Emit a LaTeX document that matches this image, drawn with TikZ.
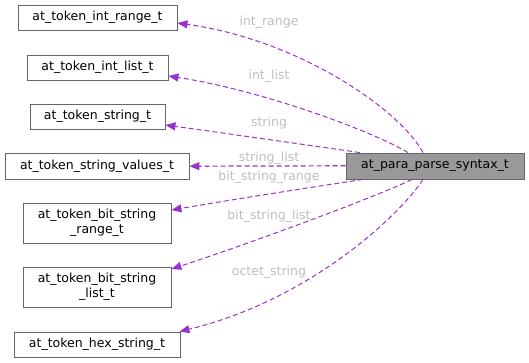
\documentclass[tikz,border=0pt]{standalone}
\usepackage{fontspec}
\setmainfont{DejaVu Sans}
\usetikzlibrary{arrows.meta,calc}
\definecolor{edgec}{HTML}{9A32CD}
\definecolor{boxc}{HTML}{666666}
\definecolor{labc}{HTML}{BEBEBE}
\definecolor{mainfill}{HTML}{999999}
\tikzset{
  cls/.style={draw=boxc, line width=0.9pt, fill=white, font=\fontsize{12.5}{15}\selectfont, inner sep=0pt, align=center},
  edge/.style={draw=edgec, line width=1pt, dash pattern=on 5pt off 3pt, -{Triangle[length=10pt,width=8pt,fill=edgec]}},
  lab/.style={text=labc, font=\fontsize{12.5}{15}\selectfont, inner sep=0pt}
}
\begin{document}
\begin{tikzpicture}[x=1pt,y=-1pt]
\useasboundingbox (0,0) rectangle (529,363);
\node[cls, minimum width=159, minimum height=25] (ir) at (97.5,17.5) {at\_token\_int\_range\_t};
\node[cls, minimum width=141, minimum height=25] (il) at (97.5,67.5) {at\_token\_int\_list\_t};
\node[cls, minimum width=135, minimum height=25] (st) at (97.5,116.5) {at\_token\_string\_t};
\node[cls, minimum width=184, minimum height=26] (sv) at (97,166) {at\_token\_string\_values\_t};
\node[cls, minimum width=148, minimum height=40] (bsr) at (97,223) {at\_token\_bit\_string\\\_range\_t};
\node[cls, minimum width=148, minimum height=40] (bsl) at (97,287) {at\_token\_bit\_string\\\_list\_t};
\node[cls, minimum width=166, minimum height=25] (hx) at (97,344.5) {at\_token\_hex\_string\_t};
\node[cls, fill=mainfill, minimum width=178, minimum height=26] (main) at (435,166) {at\_para\_parse\_syntax\_t};

\draw[edge] ([xshift=-12pt]main.north) .. controls (400,110) and (300,40) .. ([yshift=-5.5pt]ir.east);
\draw[edge] ([xshift=-27pt]main.north) .. controls (370,130) and (260,90) .. ([yshift=-8.5pt]il.east);
\draw[edge] ([xshift=-75pt]main.north) .. controls (300,144) and (230,134) .. ([yshift=-8.5pt]st.east);
\draw[edge, line width=1.2pt] ([yshift=0.2pt]main.west) -- ([yshift=-0.2pt]sv.east);
\draw[edge] ([xshift=-72pt]main.south) .. controls (300,189) and (230,200) .. ([yshift=13pt]bsr.east);
\draw[edge] ([xshift=-23pt]main.south) .. controls (380,195) and (260,240) .. ([yshift=18pt]bsl.east);
\draw[edge] ([xshift=-12pt]main.south) .. controls (400,215) and (310,300) .. ([xshift=-1pt]hx.north east);

\node[lab] (l1) at (269,22) {int\_range};
\node[lab] (l2) at (269,76) {int\_list};
\node[lab] (l3) at (269,123) {string};
\node[lab] (l4) at (269,158) {string\_list};
\node[lab] (l5) at (269,177) {bit\_string\_range};
\node[lab] (l6) at (269,216) {bit\_string\_list};
\node[lab] (l7) at (269,272) {octet\_string};
\end{tikzpicture}
\end{document}
